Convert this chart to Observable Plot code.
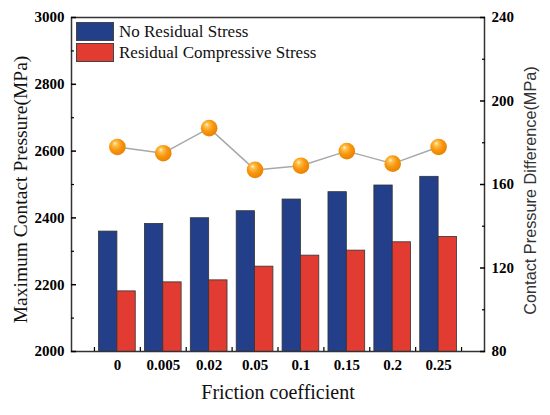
<!DOCTYPE html>
<html><head><meta charset="utf-8">
<script src="https://cdn.jsdelivr.net/npm/d3@7"></script>
<script src="https://cdn.jsdelivr.net/npm/@observablehq/plot@0.6"></script>
<style>
body{margin:0;background:#fff;}
#wrap{position:relative;width:550px;height:415px;overflow:hidden;}
.legend{position:absolute;left:76px;top:21px;font-family:"Liberation Serif","Times New Roman",serif;font-size:17px;color:#111;line-height:1;}
.legend .row{display:flex;align-items:center;height:21px;}
.legend .sw{width:38px;height:19px;border:1px solid #444;margin-right:5px;box-sizing:border-box;}
</style></head><body><div id="wrap"></div>
<script>
const categories = ["0","0.005","0.02","0.05","0.1","0.15","0.2","0.25"];
const noResidual = [2359,2382,2399,2420,2455,2477,2497,2523];
const residualComp = [2180,2207,2213,2254,2287,2302,2327,2343];
const difference = [178,175,187,167,169,176,170,178];
const seriesNames = ["No Residual Stress","Residual Compressive Stress"];
const colors = ["#233f8a","#e23b32"];
const leftTicks = [2000,2200,2400,2600,2800,3000];
const leftMinor = [2100,2300,2500,2700,2900];
const rightTicks = [80,120,160,200,240];
const rightMinor = [100,140,180,220];
const leftDomain = [2000,3000];
const rightDomain = [80,240];

const toLeft = d => leftDomain[0] + (d - rightDomain[0]) * (leftDomain[1]-leftDomain[0]) / (rightDomain[1]-rightDomain[0]);
const toRight = v => rightDomain[0] + (v - leftDomain[0]) * (rightDomain[1]-rightDomain[0]) / (leftDomain[1]-leftDomain[0]);

const barWidth = 0.4;
const bars = [];
categories.forEach((c, i) => {
  bars.push({i, s: 0, value: noResidual[i], x1: i - barWidth, x2: i});
  bars.push({i, s: 1, value: residualComp[i], x1: i, x2: i + barWidth});
});
const diffRows = difference.map((d, i) => ({i, y: toLeft(d)}));
const xMinor = categories.map((_, i) => i - 0.5).concat([categories.length - 0.5]);
const serif = "Liberation Serif, Times New Roman, serif";

const svg = Plot.plot({
  width: 550, height: 415,
  marginLeft: 71, marginRight: 66, marginTop: 17, marginBottom: 64,
  style: {fontFamily: serif, background: "#fff", color: "#000"},
  x: {type: "linear", domain: [-1, categories.length], axis: null},
  y: {domain: leftDomain, axis: null},
  marks: [
    Plot.rectY(bars, {x1: "x1", x2: "x2", y: "value", fill: d => colors[d.s], stroke: "#333", strokeWidth: 0.8, clip: true}),
    Plot.line(diffRows, {x: "i", y: "y", stroke: "#a8a8a8", strokeWidth: 1.5}),
    Plot.dot(diffRows, {x: "i", y: "y", r: 8.3, fill: "url(#orb)", stroke: "none"}),
    Plot.frame({stroke: "#333", strokeWidth: 1.5}),
    Plot.axisX(categories.map((_, i) => i), {anchor: "bottom", tickSize: 0, tickPadding: 8, tickFormat: i => categories[i], fontSize: 15, fontWeight: "bold", fontFamily: serif, label: null}),
    Plot.axisX(xMinor, {anchor: "bottom", tickSize: -4, text: null, label: null, strokeWidth: 1.2}),
    Plot.axisY(leftTicks, {anchor: "left", tickSize: 0, tickPadding: 7, fontSize: 15, fontWeight: "bold", fontFamily: serif, label: null, tickFormat: d => String(d)}),
    Plot.axisY(leftTicks, {anchor: "left", tickSize: -5, text: null, label: null, strokeWidth: 1.5}),
    Plot.axisY(leftMinor, {anchor: "left", tickSize: -3, text: null, label: null, strokeWidth: 1.2}),
    Plot.axisY(rightTicks.map(toLeft), {anchor: "right", tickSize: 0, tickPadding: 7, fontSize: 15, fontWeight: "bold", fontFamily: serif, label: null, tickFormat: v => String(Math.round(toRight(v)))}),
    Plot.axisY(rightTicks.map(toLeft), {anchor: "right", tickSize: -5, text: null, label: null, strokeWidth: 1.5}),
    Plot.axisY(rightMinor.map(toLeft), {anchor: "right", tickSize: -3, text: null, label: null, strokeWidth: 1.2}),
    Plot.text(["Friction coefficient"], {frameAnchor: "bottom", dy: 47, fontSize: 20, fontFamily: serif, fill: "#111"}),
    Plot.text(["Maximum Contact Pressure(MPa)"], {frameAnchor: "left", textAnchor: "middle", rotate: -90, dx: -51, dy: 5, fontSize: 19.5, fontFamily: serif, fill: "#111"}),
    Plot.text(["Contact Pressure Difference(MPa)"], {frameAnchor: "right", textAnchor: "middle", rotate: -90, dx: 46, dy: 6, fontSize: 16.3, fontFamily: "Liberation Sans, Arial, sans-serif", fill: "#333"})
  ]
});

const defs = d3.select(svg).insert("defs", ":first-child");
const g = defs.append("radialGradient").attr("id", "orb")
  .attr("cx", "0.42").attr("cy", "0.4").attr("r", "0.6").attr("fx", "0.35").attr("fy", "0.28");
[[0, "#fff6dc"], [0.22, "#ffc04a"], [0.6, "#f8960f"], [1, "#ea8200"]].forEach(([o, c]) =>
  g.append("stop").attr("offset", o).attr("stop-color", c));

const wrap = document.getElementById("wrap");
wrap.appendChild(svg);
const legend = document.createElement("div");
legend.className = "legend";
seriesNames.forEach((name, k) => {
  const row = document.createElement("div");
  row.className = "row";
  const sw = document.createElement("div");
  sw.className = "sw";
  sw.style.background = colors[k];
  const t = document.createElement("span");
  t.textContent = name;
  row.appendChild(sw); row.appendChild(t);
  legend.appendChild(row);
});
wrap.appendChild(legend);
</script></body></html>
